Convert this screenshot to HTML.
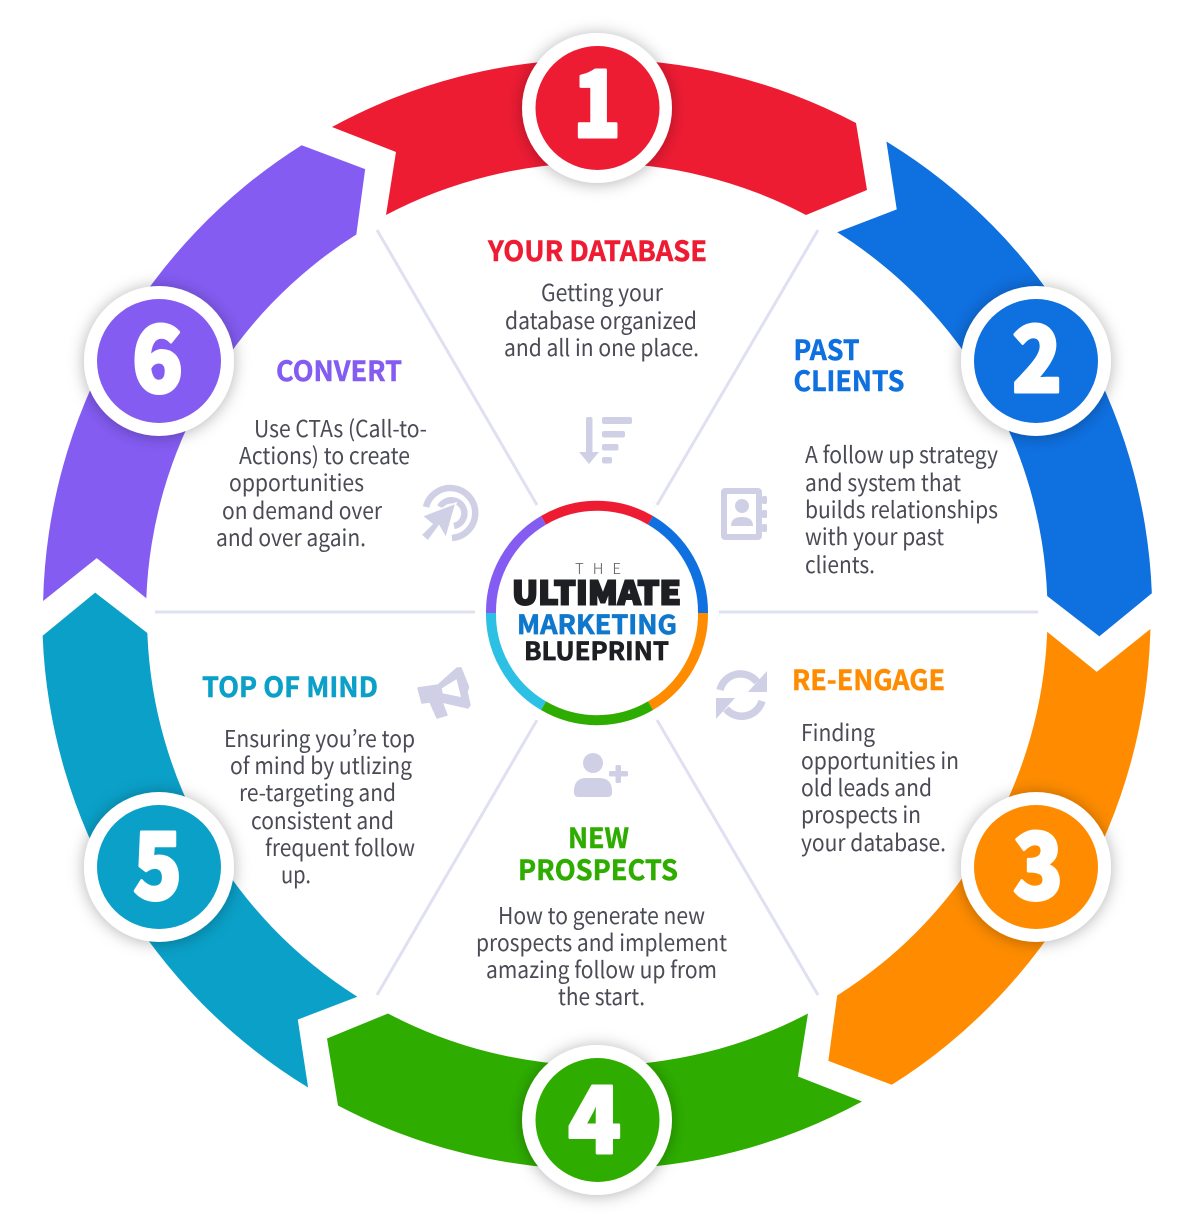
<!DOCTYPE html>
<html>
<head>
<meta charset="utf-8">
<style>
html,body{margin:0;padding:0;background:#fff;width:1200px;height:1227px;overflow:hidden}
svg{display:block}
.b{font-family:"Noto Sans CJK JP","Liberation Sans",sans-serif;font-size:23px;font-weight:400;fill:#4a4b55}
.h{font-family:"Noto Sans CJK JP","Liberation Sans",sans-serif;font-size:28px;font-weight:700;stroke-width:.5}
.n{font-family:"Noto Sans CJK JP","Liberation Sans",sans-serif;font-size:92px;font-weight:900;fill:#fff;stroke:#fff;stroke-width:3;stroke-linejoin:round}
.c{font-family:"Noto Sans CJK JP","Liberation Sans",sans-serif;font-weight:700}
</style>
</head>
<body>
<svg width="1200" height="1227" viewBox="0 0 1200 1227" xmlns="http://www.w3.org/2000/svg">
<defs>
<path id="a" d="M332,127 A554,554 0 0 1 856,123 L867,190 L806,215 A450,450 0 0 0 386,215 L396,152 Z"/>
<filter id="s" x="-30%" y="-30%" width="160%" height="160%"><feDropShadow dx="0" dy="1" stdDeviation="8" flood-color="#000" flood-opacity=".3"/></filter>
</defs>
<use href="#a" fill="#ED1C33"/>
<use href="#a" fill="#0F70E0" transform="translate(1,1) rotate(60 597 613)"/>
<use href="#a" fill="#FF8C00" transform="translate(0,2.5) rotate(120 597 613)"/>
<use href="#a" fill="#2EAD00" transform="translate(0,2.5) rotate(180 597 613)"/>
<use href="#a" fill="#0AA0C8" transform="translate(-0.5,2) rotate(240 597 613)"/>
<use href="#a" fill="#845CF2" transform="translate(-0.5,1.5) rotate(300 597 613)"/>

<g stroke="#E0E0F3" stroke-width="3" fill="none">
<path d="M475,612H155M719,612H1038M537,505L377,230M657,505L818,230M537,720L377,995M657,720L818,995"/>
</g>

<g filter="url(#s)" fill="#fff">
<circle cx="597" cy="108" r="75"/><circle cx="1036" cy="361" r="75"/><circle cx="1036" cy="867" r="75"/>
<circle cx="597" cy="1120" r="75"/><circle cx="159" cy="867" r="75"/><circle cx="159" cy="361" r="75"/>
</g>
<circle cx="597.500" cy="108" r="62" fill="#ED1C33"/>
<circle cx="1036" cy="361" r="62" fill="#0F70E0"/>
<circle cx="1036" cy="867" r="62" fill="#FF8C00"/>
<circle cx="597.500" cy="1120" r="62" fill="#2EAD00"/>
<circle cx="159" cy="867" r="62" fill="#0AA0C8"/>
<circle cx="159" cy="361" r="62" fill="#845CF2"/>
<text class="n" x="573" y="137" textLength="48" lengthAdjust="spacingAndGlyphs">1</text>
<text class="n" x="1012" y="392" textLength="50" lengthAdjust="spacingAndGlyphs">2</text>
<text class="n" x="1013" y="899" textLength="50" lengthAdjust="spacingAndGlyphs">3</text>
<text class="n" x="568" y="1153" textLength="53" lengthAdjust="spacingAndGlyphs">4</text>
<text class="n" x="133" y="899" textLength="49" lengthAdjust="spacingAndGlyphs">5</text>
<text class="n" x="132" y="392" textLength="51" lengthAdjust="spacingAndGlyphs">6</text>

<!-- center ring -->
<g fill="none" stroke-width="10">
<path d="M543.5,520.3 A106,106 0 0 1 650.5,520.3" stroke="#ED1C33"/>
<path d="M650.5,520.3 A106,106 0 0 1 703,613" stroke="#0F70E0"/>
<path d="M703,613 A106,106 0 0 1 650.5,705.7" stroke="#FF8C00"/>
<path d="M650.5,705.7 A106,106 0 0 1 543.5,705.7" stroke="#2EAD00"/>
<path d="M543.5,705.7 A106,106 0 0 1 491,613" stroke="#2CC0E4"/>
<path d="M491,613 A106,106 0 0 1 543.5,520.3" stroke="#845CF2"/>
</g>
<text x="575" y="574" textLength="46" font-family="Noto Sans CJK JP,Liberation Sans,sans-serif" font-weight="300" font-size="15" fill="#55565c">THE</text>
<text class="c" x="512" y="604.500" textLength="169" lengthAdjust="spacingAndGlyphs" font-size="32" style="font-weight:900" fill="#1E1F22" stroke="#1E1F22" stroke-width="2">ULTIMATE</text>
<text class="c" x="517" y="634" textLength="160" lengthAdjust="spacingAndGlyphs" font-size="26" fill="#0F78CC" stroke="#0F78CC" stroke-width=".7">MARKETING</text>
<text class="c" x="524" y="660" textLength="145" lengthAdjust="spacingAndGlyphs" font-size="25" fill="#1E1F22" stroke="#1E1F22" stroke-width=".7">BLUEPRINT</text>

<!-- headings -->
<g>
<text class="h" x="488" y="261" textLength="219" lengthAdjust="spacingAndGlyphs" fill="#ED1C33" stroke="#ED1C33">YOUR DATABASE</text>
<text class="h" x="793.500" y="360" textLength="66" lengthAdjust="spacingAndGlyphs" fill="#0F70E0" stroke="#0F70E0">PAST</text>
<text class="h" x="793.500" y="391" textLength="111" lengthAdjust="spacingAndGlyphs" fill="#0F70E0" stroke="#0F70E0">CLIENTS</text>
<text class="h" x="792" y="690" textLength="153" lengthAdjust="spacingAndGlyphs" fill="#FF8C00" stroke="#FF8C00">RE-ENGAGE</text>
<text class="h" x="568" y="848" textLength="61" lengthAdjust="spacingAndGlyphs" fill="#2EAD00" stroke="#2EAD00">NEW</text>
<text class="h" x="518" y="880" textLength="160" lengthAdjust="spacingAndGlyphs" fill="#2EAD00" stroke="#2EAD00">PROSPECTS</text>
<text class="h" x="202" y="697" textLength="176" lengthAdjust="spacingAndGlyphs" fill="#0AA0C8" stroke="#0AA0C8">TOP OF MIND</text>
<text class="h" x="276" y="381" textLength="126" lengthAdjust="spacingAndGlyphs" fill="#845CF2" stroke="#845CF2">CONVERT</text>
</g>

<!-- body -->
<text class="b" x="541" y="301" textLength="122" lengthAdjust="spacingAndGlyphs">Getting your</text>
<text class="b" x="505" y="329" textLength="192" lengthAdjust="spacingAndGlyphs">database organized</text>
<text class="b" x="504" y="356" textLength="195" lengthAdjust="spacingAndGlyphs">and all in one place.</text>

<text class="b" x="805" y="463" textLength="193" lengthAdjust="spacingAndGlyphs">A follow up strategy</text>
<text class="b" x="805" y="491" textLength="156" lengthAdjust="spacingAndGlyphs">and system that</text>
<text class="b" x="805" y="518" textLength="193" lengthAdjust="spacingAndGlyphs">builds relationships</text>
<text class="b" x="805" y="545" textLength="139" lengthAdjust="spacingAndGlyphs">with your past</text>
<text class="b" x="805" y="573" textLength="70" lengthAdjust="spacingAndGlyphs">clients.</text>

<text class="b" x="801" y="741" textLength="74" lengthAdjust="spacingAndGlyphs">Finding</text>
<text class="b" x="801" y="769" textLength="158" lengthAdjust="spacingAndGlyphs">opportunities in</text>
<text class="b" x="801" y="796" textLength="131" lengthAdjust="spacingAndGlyphs">old leads and</text>
<text class="b" x="801" y="823" textLength="120" lengthAdjust="spacingAndGlyphs">prospects in</text>
<text class="b" x="801" y="851" textLength="145" lengthAdjust="spacingAndGlyphs">your database.</text>

<text class="b" x="498" y="924" textLength="207" lengthAdjust="spacingAndGlyphs">How to generate new</text>
<text class="b" x="476" y="951" textLength="251" lengthAdjust="spacingAndGlyphs">prospects and implement</text>
<text class="b" x="486" y="978" textLength="231" lengthAdjust="spacingAndGlyphs">amazing follow up from</text>
<text class="b" x="558" y="1005" textLength="87" lengthAdjust="spacingAndGlyphs">the start.</text>

<text class="b" x="224" y="747" textLength="191" lengthAdjust="spacingAndGlyphs">Ensuring you’re top</text>
<text class="b" x="230" y="774" textLength="182" lengthAdjust="spacingAndGlyphs">of mind by utlizing</text>
<text class="b" x="239" y="801" textLength="157" lengthAdjust="spacingAndGlyphs">re-targeting and</text>
<text class="b" x="251" y="829" textLength="143" lengthAdjust="spacingAndGlyphs">consistent and</text>
<text class="b" x="265" y="856" textLength="150" lengthAdjust="spacingAndGlyphs">frequent follow</text>
<text class="b" x="281" y="883" textLength="30" lengthAdjust="spacingAndGlyphs">up.</text>

<text class="b" x="254" y="437" textLength="173" lengthAdjust="spacingAndGlyphs">Use CTAs (Call-to-</text>
<text class="b" x="239" y="464" textLength="171" lengthAdjust="spacingAndGlyphs">Actions) to create</text>
<text class="b" x="229" y="491" textLength="135" lengthAdjust="spacingAndGlyphs">opportunities</text>
<text class="b" x="222" y="519" textLength="160" lengthAdjust="spacingAndGlyphs">on demand over</text>
<text class="b" x="216" y="546" textLength="150" lengthAdjust="spacingAndGlyphs">and over again.</text>

<!-- icons -->
<g fill="#CFD0E6" stroke="none">
<!-- sort -->
<rect x="586" y="417" width="6.5" height="36" rx="2"/>
<path d="M579,452H599L589,464Z"/>
<rect x="602" y="417" width="30" height="7" rx="2"/>
<rect x="602" y="431" width="23" height="6.5" rx="2"/>
<rect x="602" y="444" width="16.500" height="6.5" rx="2"/>
<rect x="602" y="457" width="10" height="6.5" rx="2"/>
<!-- contact -->
<path fill-rule="evenodd" d="M725,488H758a4,4 0 0 1 4,4V536a4,4 0 0 1 -4,4H725a4,4 0 0 1 -4,-4V492a4,4 0 0 1 4,-4ZM727,494V534H756V494Z"/>
<rect x="762" y="496" width="5" height="8" rx="1.500"/>
<rect x="762" y="510" width="5" height="8" rx="1.500"/>
<rect x="762" y="524" width="5" height="8" rx="1.500"/>
<circle cx="742" cy="506" r="7"/>
<path d="M731,526c0,-7 5,-9 11,-9s11,2 11,9Z"/>
<!-- user plus -->
<circle cx="593" cy="763" r="10"/>
<path d="M574,791c0,-10 6,-13 12,-13h13c7,0 13,3 13,13v2a4,4 0 0 1 -4,4H578a4,4 0 0 1 -4,-4Z"/>
<rect x="609" y="771" width="19" height="5.500" rx="1.500"/>
<rect x="615.500" y="765" width="5.500" height="18" rx="1.500"/>
<!-- megaphone -->
<path fill-rule="evenodd" stroke="#CFD0E6" stroke-width="1.500" stroke-linejoin="round" d="M418,688L438,685L457,668L461,668L467,683L468.500,687L467,692L470,705L468,708L442,702L447,715L437,718L430,702L422,703ZM441,688L442,694L462,698L457,678Z"/>
</g>
<!-- refresh -->
<g fill="none" stroke="#CFD0E6" stroke-width="7.500">
<path d="M720,690A21,21 0 0 1 757,682"/>
<path d="M762,701A21,21 0 0 1 726,709"/>
</g>
<g fill="#CFD0E6">
<path d="M767,671V692H748Z"/>
<path d="M716,719V698H735Z"/>
</g>
<!-- target -->
<g transform="translate(-1,0)">
<g fill="none" stroke="#CFD0E6" stroke-width="6.500">
<path d="M427,507A25,25 0 1 1 453,538"/>
<path d="M441,507A13,13 0 1 1 455,526"/>
</g>
<path d="M423,516L457,503L447,538L440,526L429,541L422,535L433,524Z" fill="#CFD0E6" stroke="#fff" stroke-width="1.500"/>
</g>
</svg>
</body>
</html>
